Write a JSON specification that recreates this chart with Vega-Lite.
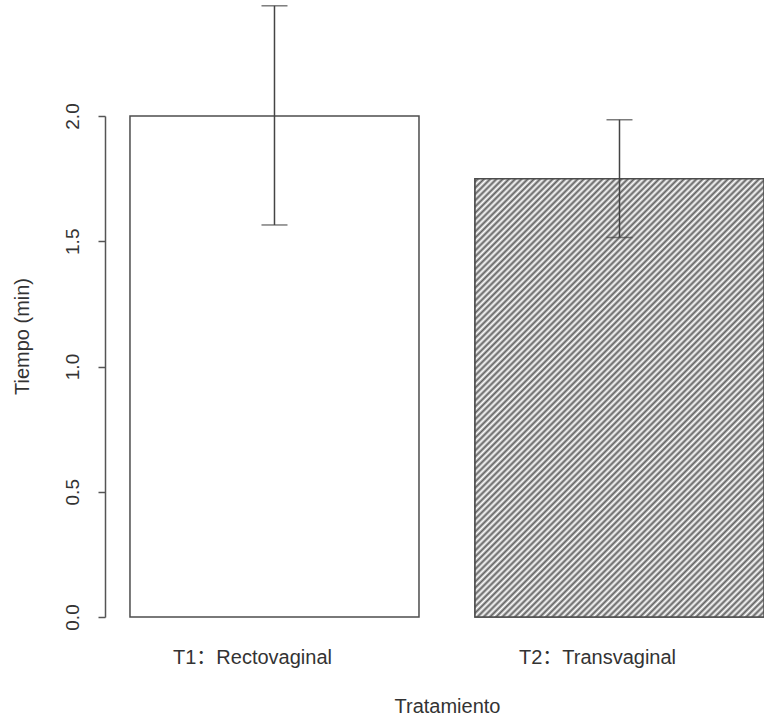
{
  "$schema": "https://vega.github.io/schema/vega-lite/v6.json",
  "width": 659,
  "height": 501,
  "autosize": {"type": "none"},
  "padding": {"left": 105, "top": 116, "right": 0, "bottom": 100},
  "background": "white",
  "config": {"view": {"stroke": null}, "font": "Liberation Sans, Noto Sans CJK SC"},
  "data": {
    "values": [
      {"trat": "T1：Rectovaginal", "tiempo": 2.0, "lo": 1.565, "hi": 2.44},
      {"trat": "T2：Transvaginal", "tiempo": 1.75, "lo": 1.515, "hi": 1.985}
    ]
  },
  "encoding": {
    "x": {
      "field": "trat",
      "type": "nominal",
      "sort": null,
      "scale": {"paddingInner": 0.1623, "paddingOuter": 0.0362, "align": 1},
      "axis": {
        "title": "Tratamiento",
        "labelAngle": 0,
        "domain": false,
        "ticks": false,
        "tickSize": 0,
        "labelFontSize": 20,
        "labelColor": "#333",
        "labelPadding": 46,
        "labelBaseline": "alphabetic",
        "labelOffset": -22,
        "titleFontSize": 20,
        "titleFontWeight": "normal",
        "titleColor": "#333",
        "titleX": 342,
        "titleY": 95,
        "titleBaseline": "alphabetic",
        "titleAlign": "center"
      }
    }
  },
  "layer": [
    {
      "mark": {"type": "bar", "fill": "white", "stroke": "#4d4d4d", "strokeWidth": 1.5},
      "encoding": {
        "y": {
          "field": "tiempo",
          "type": "quantitative",
          "scale": {"domain": [0, 2], "nice": false, "zero": true},
          "axis": {
            "title": "Tiempo (min)",
            "values": [0, 0.5, 1, 1.5, 2],
            "format": ".1f",
            "grid": false,
            "labelAngle": -90,
            "labelAlign": "center",
            "labelBaseline": "alphabetic",
            "labelFontSize": 19,
            "labelPadding": 20,
            "labelColor": "#333",
            "tickSize": 7,
            "tickColor": "#555",
            "tickWidth": 1.5,
            "domainColor": "#555",
            "domainWidth": 1.5,
            "titleFontSize": 20,
            "titleFontWeight": "normal",
            "titleColor": "#333",
            "titleAngle": -90,
            "titleX": -77,
            "titleY": 220,
            "titleAlign": "center",
            "titleBaseline": "alphabetic"
          }
        }
      }
    },
    {
      "transform": [{"filter": "datum.tiempo < 2"}],
      "mark": {
        "type": "bar",
        "stroke": "#4d4d4d",
        "strokeWidth": 1.5,
        "fill": {
          "gradient": "linear",
          "x1": 0, "y1": 0, "x2": 1, "y2": 1.5169,
          "stops": [
            {"offset":0,"color":"#fff"},{"offset":0.0033,"color":"#606060"},{"offset":0.0066,"color":"#fff"},{"offset":0.0098,"color":"#606060"},{"offset":0.0131,"color":"#fff"},{"offset":0.0164,"color":"#606060"},{"offset":0.0197,"color":"#fff"},{"offset":0.0229,"color":"#606060"},{"offset":0.0262,"color":"#fff"},{"offset":0.0295,"color":"#606060"},
            {"offset":0.0328,"color":"#fff"},{"offset":0.0360,"color":"#606060"},{"offset":0.0393,"color":"#fff"},{"offset":0.0426,"color":"#606060"},{"offset":0.0459,"color":"#fff"},{"offset":0.0491,"color":"#606060"},{"offset":0.0524,"color":"#fff"},{"offset":0.0557,"color":"#606060"},{"offset":0.0590,"color":"#fff"},{"offset":0.0623,"color":"#606060"},
            {"offset":0.0655,"color":"#fff"},{"offset":0.0688,"color":"#606060"},{"offset":0.0721,"color":"#fff"},{"offset":0.0754,"color":"#606060"},{"offset":0.0786,"color":"#fff"},{"offset":0.0819,"color":"#606060"},{"offset":0.0852,"color":"#fff"},{"offset":0.0885,"color":"#606060"},{"offset":0.0917,"color":"#fff"},{"offset":0.0950,"color":"#606060"},
            {"offset":0.0983,"color":"#fff"},{"offset":0.1016,"color":"#606060"},{"offset":0.1048,"color":"#fff"},{"offset":0.1081,"color":"#606060"},{"offset":0.1114,"color":"#fff"},{"offset":0.1147,"color":"#606060"},{"offset":0.1180,"color":"#fff"},{"offset":0.1212,"color":"#606060"},{"offset":0.1245,"color":"#fff"},{"offset":0.1278,"color":"#606060"},
            {"offset":0.1311,"color":"#fff"},{"offset":0.1343,"color":"#606060"},{"offset":0.1376,"color":"#fff"},{"offset":0.1409,"color":"#606060"},{"offset":0.1442,"color":"#fff"},{"offset":0.1474,"color":"#606060"},{"offset":0.1507,"color":"#fff"},{"offset":0.1540,"color":"#606060"},{"offset":0.1573,"color":"#fff"},{"offset":0.1605,"color":"#606060"},
            {"offset":0.1638,"color":"#fff"},{"offset":0.1671,"color":"#606060"},{"offset":0.1704,"color":"#fff"},{"offset":0.1737,"color":"#606060"},{"offset":0.1769,"color":"#fff"},{"offset":0.1802,"color":"#606060"},{"offset":0.1835,"color":"#fff"},{"offset":0.1868,"color":"#606060"},{"offset":0.1900,"color":"#fff"},{"offset":0.1933,"color":"#606060"},
            {"offset":0.1966,"color":"#fff"},{"offset":0.1999,"color":"#606060"},{"offset":0.2031,"color":"#fff"},{"offset":0.2064,"color":"#606060"},{"offset":0.2097,"color":"#fff"},{"offset":0.2130,"color":"#606060"},{"offset":0.2162,"color":"#fff"},{"offset":0.2195,"color":"#606060"},{"offset":0.2228,"color":"#fff"},{"offset":0.2261,"color":"#606060"},
            {"offset":0.2294,"color":"#fff"},{"offset":0.2326,"color":"#606060"},{"offset":0.2359,"color":"#fff"},{"offset":0.2392,"color":"#606060"},{"offset":0.2425,"color":"#fff"},{"offset":0.2457,"color":"#606060"},{"offset":0.2490,"color":"#fff"},{"offset":0.2523,"color":"#606060"},{"offset":0.2556,"color":"#fff"},{"offset":0.2588,"color":"#606060"},
            {"offset":0.2621,"color":"#fff"},{"offset":0.2654,"color":"#606060"},{"offset":0.2687,"color":"#fff"},{"offset":0.2719,"color":"#606060"},{"offset":0.2752,"color":"#fff"},{"offset":0.2785,"color":"#606060"},{"offset":0.2818,"color":"#fff"},{"offset":0.2851,"color":"#606060"},{"offset":0.2883,"color":"#fff"},{"offset":0.2916,"color":"#606060"},
            {"offset":0.2949,"color":"#fff"},{"offset":0.2982,"color":"#606060"},{"offset":0.3014,"color":"#fff"},{"offset":0.3047,"color":"#606060"},{"offset":0.3080,"color":"#fff"},{"offset":0.3113,"color":"#606060"},{"offset":0.3145,"color":"#fff"},{"offset":0.3178,"color":"#606060"},{"offset":0.3211,"color":"#fff"},{"offset":0.3244,"color":"#606060"},
            {"offset":0.3277,"color":"#fff"},{"offset":0.3309,"color":"#606060"},{"offset":0.3342,"color":"#fff"},{"offset":0.3375,"color":"#606060"},{"offset":0.3408,"color":"#fff"},{"offset":0.3440,"color":"#606060"},{"offset":0.3473,"color":"#fff"},{"offset":0.3506,"color":"#606060"},{"offset":0.3539,"color":"#fff"},{"offset":0.3571,"color":"#606060"},
            {"offset":0.3604,"color":"#fff"},{"offset":0.3637,"color":"#606060"},{"offset":0.3670,"color":"#fff"},{"offset":0.3702,"color":"#606060"},{"offset":0.3735,"color":"#fff"},{"offset":0.3768,"color":"#606060"},{"offset":0.3801,"color":"#fff"},{"offset":0.3834,"color":"#606060"},{"offset":0.3866,"color":"#fff"},{"offset":0.3899,"color":"#606060"},
            {"offset":0.3932,"color":"#fff"},{"offset":0.3965,"color":"#606060"},{"offset":0.3997,"color":"#fff"},{"offset":0.4030,"color":"#606060"},{"offset":0.4063,"color":"#fff"},{"offset":0.4096,"color":"#606060"},{"offset":0.4128,"color":"#fff"},{"offset":0.4161,"color":"#606060"},{"offset":0.4194,"color":"#fff"},{"offset":0.4227,"color":"#606060"},
            {"offset":0.4259,"color":"#fff"},{"offset":0.4292,"color":"#606060"},{"offset":0.4325,"color":"#fff"},{"offset":0.4358,"color":"#606060"},{"offset":0.4391,"color":"#fff"},{"offset":0.4423,"color":"#606060"},{"offset":0.4456,"color":"#fff"},{"offset":0.4489,"color":"#606060"},{"offset":0.4522,"color":"#fff"},{"offset":0.4554,"color":"#606060"},
            {"offset":0.4587,"color":"#fff"},{"offset":0.4620,"color":"#606060"},{"offset":0.4653,"color":"#fff"},{"offset":0.4685,"color":"#606060"},{"offset":0.4718,"color":"#fff"},{"offset":0.4751,"color":"#606060"},{"offset":0.4784,"color":"#fff"},{"offset":0.4816,"color":"#606060"},{"offset":0.4849,"color":"#fff"},{"offset":0.4882,"color":"#606060"},
            {"offset":0.4915,"color":"#fff"},{"offset":0.4948,"color":"#606060"},{"offset":0.4980,"color":"#fff"},{"offset":0.5013,"color":"#606060"},{"offset":0.5046,"color":"#fff"},{"offset":0.5079,"color":"#606060"},{"offset":0.5111,"color":"#fff"},{"offset":0.5144,"color":"#606060"},{"offset":0.5177,"color":"#fff"},{"offset":0.5210,"color":"#606060"},
            {"offset":0.5242,"color":"#fff"},{"offset":0.5275,"color":"#606060"},{"offset":0.5308,"color":"#fff"},{"offset":0.5341,"color":"#606060"},{"offset":0.5373,"color":"#fff"},{"offset":0.5406,"color":"#606060"},{"offset":0.5439,"color":"#fff"},{"offset":0.5472,"color":"#606060"},{"offset":0.5505,"color":"#fff"},{"offset":0.5537,"color":"#606060"},
            {"offset":0.5570,"color":"#fff"},{"offset":0.5603,"color":"#606060"},{"offset":0.5636,"color":"#fff"},{"offset":0.5668,"color":"#606060"},{"offset":0.5701,"color":"#fff"},{"offset":0.5734,"color":"#606060"},{"offset":0.5767,"color":"#fff"},{"offset":0.5799,"color":"#606060"},{"offset":0.5832,"color":"#fff"},{"offset":0.5865,"color":"#606060"},
            {"offset":0.5898,"color":"#fff"},{"offset":0.5930,"color":"#606060"},{"offset":0.5963,"color":"#fff"},{"offset":0.5996,"color":"#606060"},{"offset":0.6029,"color":"#fff"},{"offset":0.6062,"color":"#606060"},{"offset":0.6094,"color":"#fff"},{"offset":0.6127,"color":"#606060"},{"offset":0.6160,"color":"#fff"},{"offset":0.6193,"color":"#606060"},
            {"offset":0.6225,"color":"#fff"},{"offset":0.6258,"color":"#606060"},{"offset":0.6291,"color":"#fff"},{"offset":0.6324,"color":"#606060"},{"offset":0.6356,"color":"#fff"},{"offset":0.6389,"color":"#606060"},{"offset":0.6422,"color":"#fff"},{"offset":0.6455,"color":"#606060"},{"offset":0.6487,"color":"#fff"},{"offset":0.6520,"color":"#606060"},
            {"offset":0.6553,"color":"#fff"},{"offset":0.6586,"color":"#606060"},{"offset":0.6619,"color":"#fff"},{"offset":0.6651,"color":"#606060"},{"offset":0.6684,"color":"#fff"},{"offset":0.6717,"color":"#606060"},{"offset":0.6750,"color":"#fff"},{"offset":0.6782,"color":"#606060"},{"offset":0.6815,"color":"#fff"},{"offset":0.6848,"color":"#606060"},
            {"offset":0.6881,"color":"#fff"},{"offset":0.6913,"color":"#606060"},{"offset":0.6946,"color":"#fff"},{"offset":0.6979,"color":"#606060"},{"offset":0.7012,"color":"#fff"},{"offset":0.7044,"color":"#606060"},{"offset":0.7077,"color":"#fff"},{"offset":0.7110,"color":"#606060"},{"offset":0.7143,"color":"#fff"},{"offset":0.7176,"color":"#606060"},
            {"offset":0.7208,"color":"#fff"},{"offset":0.7241,"color":"#606060"},{"offset":0.7274,"color":"#fff"},{"offset":0.7307,"color":"#606060"},{"offset":0.7339,"color":"#fff"},{"offset":0.7372,"color":"#606060"},{"offset":0.7405,"color":"#fff"},{"offset":0.7438,"color":"#606060"},{"offset":0.7470,"color":"#fff"},{"offset":0.7503,"color":"#606060"},
            {"offset":0.7536,"color":"#fff"},{"offset":0.7569,"color":"#606060"},{"offset":0.7601,"color":"#fff"},{"offset":0.7634,"color":"#606060"},{"offset":0.7667,"color":"#fff"},{"offset":0.7700,"color":"#606060"}
          ]
        }
      },
      "encoding": {
        "y": {"field": "tiempo", "type": "quantitative"}
      }
    },
    {
      "mark": {"type": "rule", "color": "#444", "strokeWidth": 1.5},
      "encoding": {
        "y": {"field": "lo", "type": "quantitative"},
        "y2": {"field": "hi"}
      }
    },
    {
      "mark": {"type": "tick", "color": "#444", "thickness": 1.5, "size": 26, "orient": "horizontal"},
      "encoding": {
        "y": {"field": "lo", "type": "quantitative"}
      }
    },
    {
      "mark": {"type": "tick", "color": "#444", "thickness": 1.5, "size": 26, "orient": "horizontal"},
      "encoding": {
        "y": {"field": "hi", "type": "quantitative"}
      }
    }
  ]
}
